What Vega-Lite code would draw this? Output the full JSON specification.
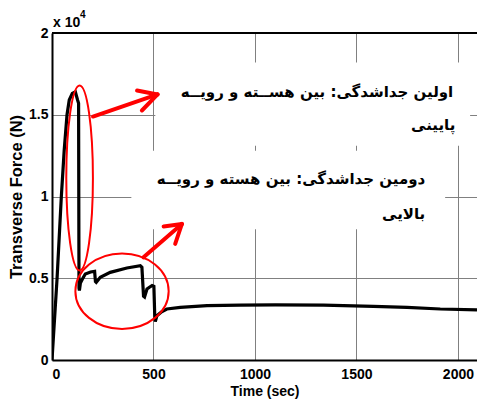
{
  "$schema": "https://vega.github.io/schema/vega-lite/v6.json",
  "width": 425,
  "height": 327,
  "autosize": {"type": "none"},
  "padding": {"left": 52, "top": 33, "right": 0, "bottom": 40},
  "background": "white",
  "config": {
    "view": {"stroke": null},
    "axis": {
      "labelFont": "Liberation Sans",
      "labelFontWeight": "bold",
      "labelFontSize": 14,
      "labelColor": "black",
      "titleFont": "Liberation Sans",
      "titleFontWeight": "bold",
      "titleFontSize": 14,
      "titleColor": "black",
      "domainColor": "black",
      "domainWidth": 2,
      "gridColor": "#808080",
      "gridWidth": 1,
      "gridOpacity": 1,
      "ticks": false
    }
  },
  "datasets": {
    "curve": [
      {"t": 0, "F": 0}, {"t": 25, "F": 5000}, {"t": 46, "F": 10000}, {"t": 60, "F": 12800},
      {"t": 74, "F": 15000}, {"t": 85, "F": 15900}, {"t": 100, "F": 16300}, {"t": 115, "F": 16400},
      {"t": 126, "F": 15900}, {"t": 131, "F": 15700}, {"t": 133, "F": 4400}, {"t": 135, "F": 4250},
      {"t": 140, "F": 4700}, {"t": 150, "F": 4950}, {"t": 164, "F": 5260}, {"t": 190, "F": 5380},
      {"t": 210, "F": 5420}, {"t": 214, "F": 4800}, {"t": 218, "F": 4750}, {"t": 238, "F": 5060},
      {"t": 287, "F": 5360}, {"t": 369, "F": 5630}, {"t": 435, "F": 5770}, {"t": 443, "F": 5670},
      {"t": 451, "F": 3900}, {"t": 456, "F": 3850}, {"t": 468, "F": 4340}, {"t": 480, "F": 4450},
      {"t": 493, "F": 4550}, {"t": 502, "F": 4500}, {"t": 506, "F": 2800}, {"t": 509, "F": 2350},
      {"t": 517, "F": 2710}, {"t": 540, "F": 2950}, {"t": 566, "F": 3120}, {"t": 632, "F": 3220},
      {"t": 764, "F": 3320}, {"t": 928, "F": 3360}, {"t": 1100, "F": 3370}, {"t": 1338, "F": 3360},
      {"t": 1584, "F": 3280}, {"t": 1749, "F": 3220}, {"t": 1913, "F": 3120}, {"t": 2094, "F": 3060}
    ],
    "boxes": [
      {"t": 509, "t2": 2060, "F": 18200, "F2": 13100},
      {"t": 391, "t2": 1937, "F": 12800, "F2": 8000}
    ],
    "ellipses": [
      {"name": "e1", "t": 136, "F": 11130},
      {"name": "e2", "t": 345, "F": 4210}
    ],
    "arrows": [
      {"t": 202, "F": 14890, "t2": 520, "F2": 16240},
      {"t": 419, "F": 16480, "t2": 520, "F2": 16240},
      {"t": 443, "F": 15260, "t2": 520, "F2": 16240},
      {"t": 451, "F": 6280, "t2": 640, "F2": 8320},
      {"t": 550, "F": 8160, "t2": 640, "F2": 8320},
      {"t": 607, "F": 7100, "t2": 640, "F2": 8320}
    ],
    "notes": [
      {"t": 1977, "F": 16380, "label": "اولین جداشدگی: بین هســته و رویــه"},
      {"t": 1987, "F": 14400, "label": "پایینی"},
      {"t": 1839, "F": 11100, "label": "دومین جداشدگی: بین هسته و رویــه"},
      {"t": 1839, "F": 8950, "label": "بالایی"}
    ],
    "border": [{"F": 20000}],
    "scale": [{"t": 0, "F": 20000, "label": "x 10", "exp": "4"}]
  },
  "layer": [
    {
      "data": {"name": "boxes"},
      "mark": {"type": "rect", "color": "white"},
      "encoding": {
        "x": {"field": "t", "type": "quantitative", "title": "Time (sec)"},
        "x2": {"field": "t2"},
        "y": {"field": "F", "type": "quantitative", "title": "Transverse Force (N)"},
        "y2": {"field": "F2"}
      }
    },
    {
      "data": {"name": "curve"},
      "mark": {"type": "line", "color": "black", "strokeWidth": 3.2, "clip": true},
      "encoding": {
        "x": {
          "field": "t", "type": "quantitative", "title": "Time (sec)",
          "scale": {"domain": [0, 2094], "nice": false, "zero": false},
          "axis": {"values": [0, 500, 1000, 1500, 2000], "format": "d", "labelPadding": 7, "titlePadding": 3, "grid": true}
        },
        "y": {
          "field": "F", "type": "quantitative", "title": "Transverse Force (N)",
          "scale": {"domain": [0, 20000], "nice": false},
          "axis": {"values": [0, 5000, 10000, 15000, 20000], "labelExpr": "format(datum.value/10000, '~g')", "labelPadding": 4, "titlePadding": 4, "titleFontSize": 16.5, "grid": true}
        }
      }
    },
    {
      "data": {"name": "ellipses"},
      "transform": [{"filter": "datum.name == 'e1'"}],
      "mark": {"type": "point", "filled": false, "color": "red", "strokeWidth": 2, "opacity": 1, "size": 34225,
        "shape": "M 0.144 0 C 0.144 0.5523 0.0795 1 0 1 C -0.0795 1 -0.144 0.5523 -0.144 0 C -0.144 -0.5523 -0.0795 -1 0 -1 C 0.0795 -1 0.144 -0.5523 0.144 0 Z"},
      "encoding": {
        "x": {"field": "t", "type": "quantitative", "title": "Time (sec)"},
        "y": {"field": "F", "type": "quantitative", "title": "Transverse Force (N)"}
      }
    },
    {
      "data": {"name": "ellipses"},
      "transform": [{"filter": "datum.name == 'e2'"}],
      "mark": {"type": "point", "filled": false, "color": "red", "strokeWidth": 2, "opacity": 1, "size": 8705,
        "shape": "M 1 0 C 1 0.447 0.5523 0.81 0 0.81 C -0.5523 0.81 -1 0.447 -1 0 C -1 -0.447 -0.5523 -0.81 0 -0.81 C 0.5523 -0.81 1 -0.447 1 0 Z"},
      "encoding": {
        "x": {"field": "t", "type": "quantitative", "title": "Time (sec)"},
        "y": {"field": "F", "type": "quantitative", "title": "Transverse Force (N)"}
      }
    },
    {
      "data": {"name": "arrows"},
      "mark": {"type": "rule", "color": "red", "strokeWidth": 4, "strokeCap": "round"},
      "encoding": {
        "x": {"field": "t", "type": "quantitative", "title": "Time (sec)"},
        "y": {"field": "F", "type": "quantitative", "title": "Transverse Force (N)"},
        "x2": {"field": "t2"},
        "y2": {"field": "F2"}
      }
    },
    {
      "data": {"name": "border"},
      "mark": {"type": "rule", "color": "black", "strokeWidth": 2},
      "encoding": {"y": {"field": "F", "type": "quantitative", "title": "Transverse Force (N)"}}
    },
    {
      "data": {"name": "notes"},
      "mark": {"type": "text", "align": "right", "baseline": "middle", "font": "DejaVu Sans", "fontWeight": "bold", "fontSize": 15, "color": "black"},
      "encoding": {
        "x": {"field": "t", "type": "quantitative", "title": "Time (sec)"},
        "y": {"field": "F", "type": "quantitative", "title": "Transverse Force (N)"},
        "text": {"field": "label"}
      }
    },
    {
      "data": {"name": "scale"},
      "mark": {"type": "text", "align": "left", "baseline": "alphabetic", "dx": 1, "dy": -6, "font": "Liberation Sans", "fontWeight": "bold", "fontSize": 14, "color": "black"},
      "encoding": {
        "x": {"field": "t", "type": "quantitative", "title": "Time (sec)"},
        "y": {"field": "F", "type": "quantitative", "title": "Transverse Force (N)"},
        "text": {"field": "label"}
      }
    },
    {
      "data": {"name": "scale"},
      "mark": {"type": "text", "align": "left", "baseline": "alphabetic", "dx": 28, "dy": -15, "font": "Liberation Sans", "fontWeight": "bold", "fontSize": 10, "color": "black"},
      "encoding": {
        "x": {"field": "t", "type": "quantitative", "title": "Time (sec)"},
        "y": {"field": "F", "type": "quantitative", "title": "Transverse Force (N)"},
        "text": {"field": "exp"}
      }
    }
  ]
}
